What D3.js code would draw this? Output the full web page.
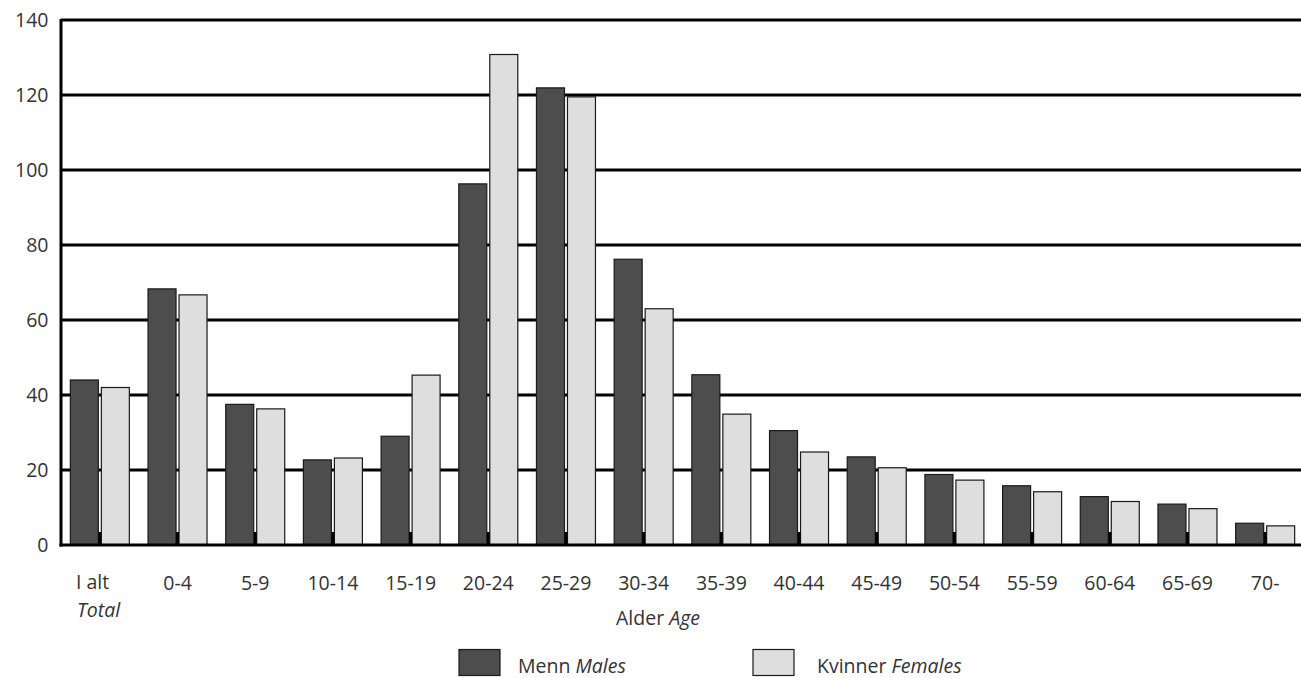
<!DOCTYPE html>
<html>
<head>
<meta charset="utf-8">
<script src="https://d3js.org/d3.v7.min.js"></script>
<style>
  body { margin: 0; background: #fff; }
  svg { display: block; font-family: "Open Sans", "Noto Sans", sans-serif; }
</style>
</head>
<body>
<svg id="chart" width="1301" height="678"></svg>
<script>
const categories = ["I alt", "0-4", "5-9", "10-14", "15-19", "20-24", "25-29", "30-34", "35-39", "40-44", "45-49", "50-54", "55-59", "60-64", "65-69", "70-"];
const males   = [44.0, 68.3, 37.5, 22.7, 29.0, 96.3, 121.9, 76.2, 45.4, 30.5, 23.5, 18.8, 15.8, 12.9, 10.9, 5.8];
const females = [42.0, 66.7, 36.3, 23.2, 45.3, 130.8, 119.5, 63.0, 34.9, 24.8, 20.6, 17.3, 14.2, 11.6, 9.7, 5.1];
const yTicks = [0, 20, 40, 60, 80, 100, 120, 140];
const seriesNames = [["Menn ", "Males"], ["Kvinner ", "Females"]];

(function () {
const svg = d3.select("#chart");
const mLeft = 61, mRight = 1304, mTop = 20, mBottom = 545;
const textColor = "#333";
const fs = 19.5;

const x = d3.scaleBand().domain(categories).range([mLeft, mRight]);
const y = d3.scaleLinear().domain([0, 140]).range([mBottom, mTop]);
const bw = x.bandwidth();
const barW = 28;

// gridlines
svg.append("g").selectAll("line").data(yTicks.filter(d => d > 0)).join("line")
  .attr("x1", mLeft).attr("x2", 1301)
  .attr("y1", d => y(d)).attr("y2", d => y(d))
  .attr("stroke", "#000").attr("stroke-width", 3);

// y labels
svg.append("g").selectAll("text").data(yTicks).join("text")
  .attr("x", 48.5).attr("y", d => y(d) + 7)
  .attr("text-anchor", "end").attr("font-size", fs).attr("fill", textColor)
  .text(d => d);

// bars
const gBars = svg.append("g");
categories.forEach((c, i) => {
  const cx = x(c) + bw / 2;
  gBars.append("rect")
    .attr("x", cx - 1.5 - barW).attr("y", y(males[i]))
    .attr("width", barW).attr("height", y(0) - y(males[i]))
    .attr("fill", "#4d4d4d").attr("stroke", "#1a1a1a").attr("stroke-width", 1.2);
  gBars.append("rect")
    .attr("x", cx + 1.5).attr("y", y(females[i]))
    .attr("width", barW).attr("height", y(0) - y(females[i]))
    .attr("fill", "#dedede").attr("stroke", "#1a1a1a").attr("stroke-width", 1.2);
  gBars.append("line")
    .attr("x1", cx).attr("x2", cx)
    .attr("y1", mBottom - 13).attr("y2", mBottom)
    .attr("stroke", "#000").attr("stroke-width", 3);
});

// axes lines
svg.append("line").attr("x1", mLeft).attr("x2", mLeft).attr("y1", mTop - 1).attr("y2", mBottom + 1.5)
  .attr("stroke", "#000").attr("stroke-width", 3);
svg.append("line").attr("x1", mLeft - 1.5).attr("x2", 1301).attr("y1", mBottom).attr("y2", mBottom)
  .attr("stroke", "#000").attr("stroke-width", 3);

// x labels
const gx = svg.append("g");
categories.forEach((c, i) => {
  const cx = x(c) + bw / 2;
  if (i === 0) {
    gx.append("text").attr("x", 76).attr("y", 589).attr("font-size", fs).attr("fill", textColor).text(c);
    gx.append("text").attr("x", 77).attr("y", 617).attr("font-size", fs).attr("font-style", "italic").attr("fill", textColor).text("Total");
  } else {
    gx.append("text").attr("x", cx).attr("y", 590).attr("text-anchor", "middle")
      .attr("font-size", fs).attr("fill", textColor).text(c);
  }
});

// axis title
const t = svg.append("text").attr("x", 658).attr("y", 625).attr("text-anchor", "middle")
  .attr("font-size", fs).attr("fill", textColor);
t.append("tspan").text("Alder ");
t.append("tspan").attr("font-style", "italic").text("Age");

// legend
const legend = [
  {x: 459, tx: 518, fill: "#4d4d4d", name: seriesNames[0]},
  {x: 753, tx: 817, fill: "#dedede", name: seriesNames[1]}
];
legend.forEach(l => {
  svg.append("rect").attr("x", l.x).attr("y", 649.5).attr("width", 41).attr("height", 26)
    .attr("fill", l.fill).attr("stroke", "#1a1a1a").attr("stroke-width", 1.2);
  const tt = svg.append("text").attr("x", l.tx).attr("y", 673).attr("font-size", fs).attr("fill", textColor);
  tt.append("tspan").text(l.name[0]);
  tt.append("tspan").attr("font-style", "italic").text(l.name[1]);
});
})();
</script>
</body>
</html>
